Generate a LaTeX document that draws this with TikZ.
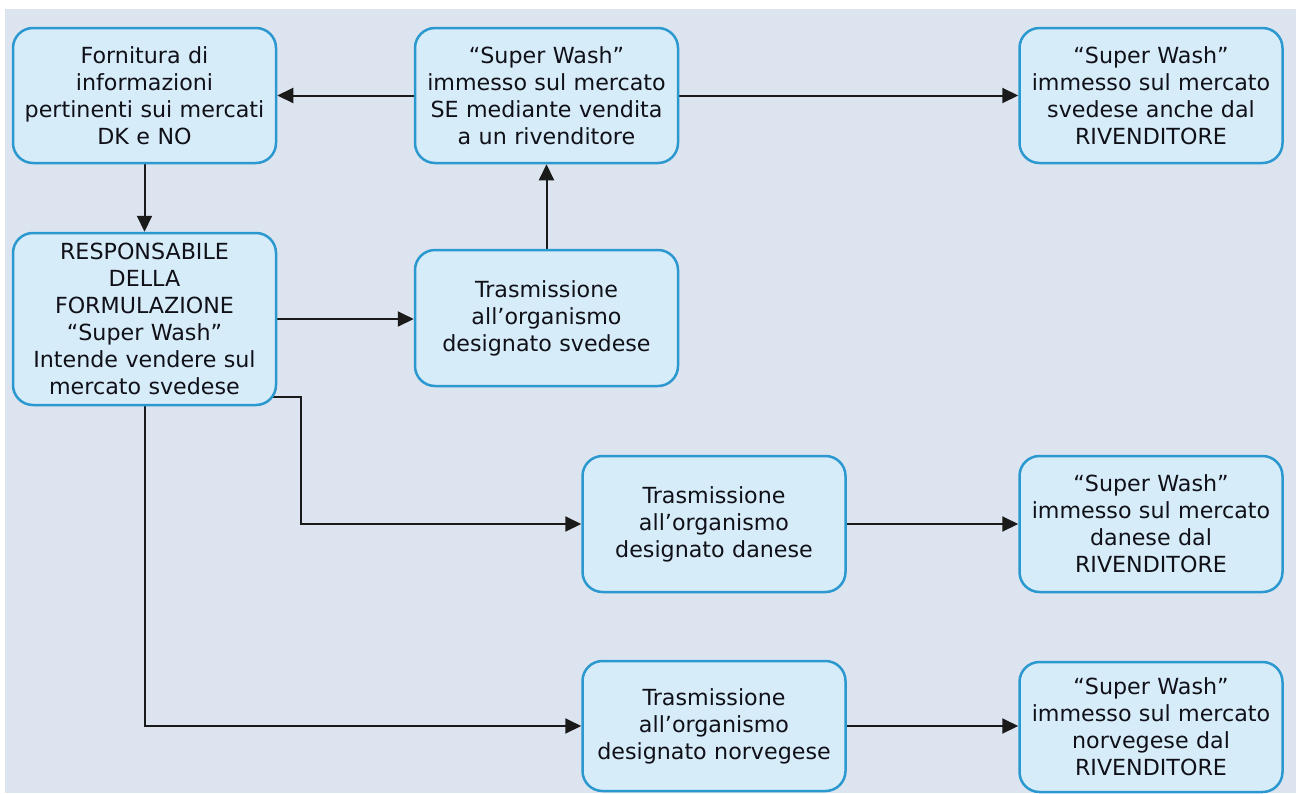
\documentclass[tikz,border=0pt]{standalone}
\usepackage{fontspec}
\setmainfont{DejaVu Sans}
\usetikzlibrary{arrows.meta}
\pgfdeclarelayer{bg}
\pgfdeclarelayer{edges}
\pgfsetlayers{bg,edges,main}
\definecolor{pagebg}{HTML}{DCE4EF}
\definecolor{boxfill}{HTML}{D7ECF9}
\definecolor{boxline}{HTML}{2B98CF}
\definecolor{linkcol}{HTML}{1A1A1A}
\definecolor{txt}{HTML}{101018}
\tikzset{
  stepbox/.style={draw=boxline, fill=boxfill, line width=2.5pt, rounded corners=20pt,
    minimum width=263pt, text width=260pt, align=center, inner sep=0pt,
    font=\fontsize{22.2}{27}\selectfont, text=txt},
  link/.style={draw=linkcol, line width=2pt,
    -{Triangle[length=16pt,width=15pt]}}
}
\begin{document}
\begin{tikzpicture}[x=1pt,y=-1pt]
\useasboundingbox (0,0) rectangle (1296,793);
\begin{pgfonlayer}{bg}
\fill[white] (0,0) rectangle (1296,793);
\fill[pagebg] (5,9) rectangle (1296,793);
\end{pgfonlayer}

\node[stepbox, minimum height=135pt] (forn) at (144.5,95.5)
  {Fornitura di\\informazioni\\pertinenti sui mercati\\DK e NO};
\node[stepbox, minimum height=135pt] (mktse) at (546.5,95.5)
  {“Super Wash”\\immesso sul mercato\\SE mediante vendita\\a un rivenditore};
\node[stepbox, minimum height=135pt] (rivse) at (1151,95.5)
  {“Super Wash”\\immesso sul mercato\\svedese anche dal\\RIVENDITORE};
\node[stepbox, minimum height=172pt] (resp) at (144.5,319)
  {RESPONSABILE\\DELLA\\FORMULAZIONE\\“Super Wash”\\Intende vendere sul\\mercato svedese};
\node[stepbox, minimum height=136pt] (trse) at (546.5,318)
  {Trasmissione\\all’organismo\\designato svedese};
\node[stepbox, minimum height=136pt] (trdk) at (714,524)
  {Trasmissione\\all’organismo\\designato danese};
\node[stepbox, minimum height=136pt] (rivdk) at (1151,524)
  {“Super Wash”\\immesso sul mercato\\danese dal\\RIVENDITORE};
\node[stepbox, minimum height=130pt] (trno) at (714,726)
  {Trasmissione\\all’organismo\\designato norvegese};
\node[stepbox, minimum height=130pt] (rivno) at (1151,727)
  {“Super Wash”\\immesso sul mercato\\norvegese dal\\RIVENDITORE};

% start of the branch towards the Danish body, hidden under the box corner
\coordinate (dkstart) at (262,397);
\coordinate (dkbend) at (301,397);

\begin{pgfonlayer}{edges}
\draw[link] (mktse.west) -- (forn.east);
\draw[link] (mktse.east) -- (rivse.west);
\draw[link] (forn.south) -- (resp.north);
\draw[link] (trse.north) -- (mktse.south);
\draw[link] (resp.east) -- (trse.west |- resp.east);
\draw[link] (dkstart) -- (dkbend) |- (trdk.west);
\draw[link] (resp.south) |- (trno.west);
\draw[link] (trdk.east) -- (rivdk.west);
\draw[link] (trno.east) -- (rivno.west |- trno.east);
\end{pgfonlayer}
\end{tikzpicture}
\end{document}
